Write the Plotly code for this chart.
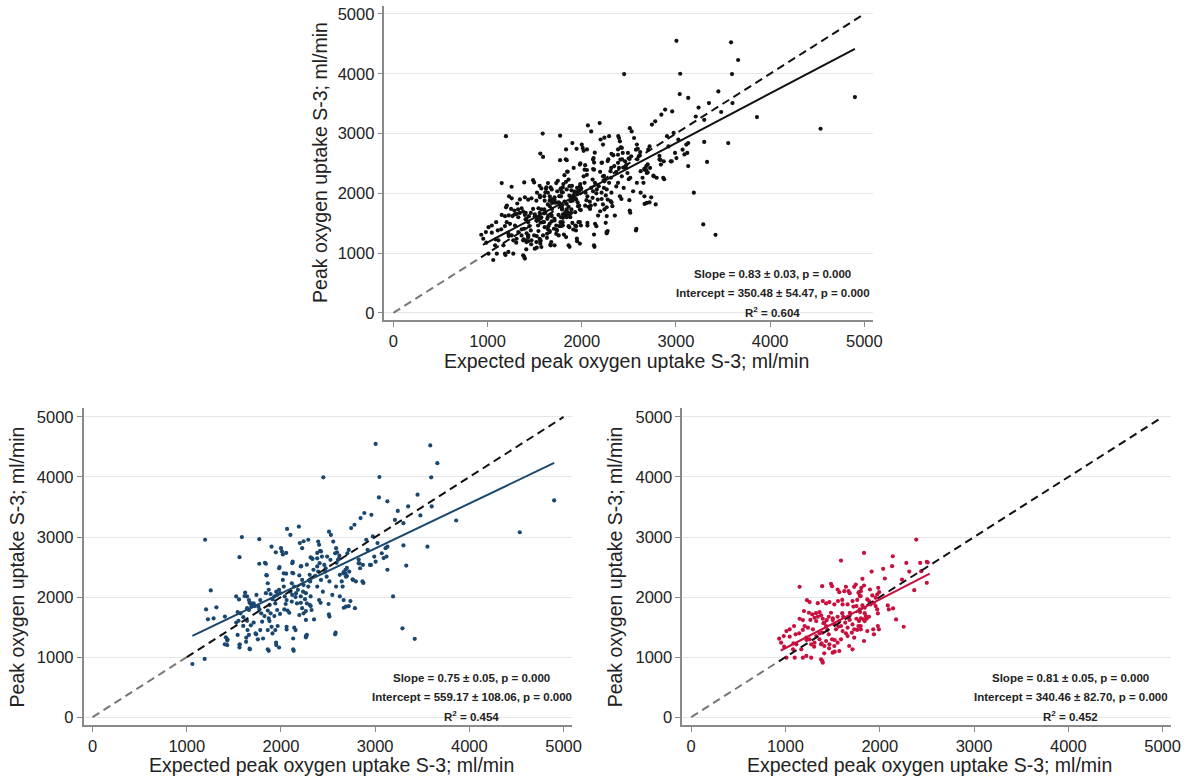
import plotly.graph_objects as go

# ---------------- data ----------------
blue_x = [1060,1190,1195,1205,1225,1255,1315,1285,1405,1415,1430,1430,1525,1540,1525,1550,1540,1560,1560,1560,
          1585,1570,1600,1600,1620,1640,1660,1680,1640,1660,1685,1710,1640,1680,1645,1660,1630,1670,1710,1730,
          1740,1770,1770,1780,1790,1800,1780,1810,1760,1840,1850,1860,1870,1840,1890,1900,1910,1880,1860,1890,
          1870,1900,1860,1910,1870,1950,1960,1930,1940,1980,1990,2000,2010,1980,2030,2020,2030,1960,1990,1940,
          1950,1980,2040,2060,2050,2070,2060,2060,2065,2100,2120,2130,2115,2140,2100,2120,2160,2155,2115,2170,
          2130,2135,2190,2200,2225,2210,2195,2225,2240,2180,2235,2210,2265,2255,2275,2225,2240,2195,2265,2155,
          2275,2265,2240,2290,2305,2310,2290,2315,2305,2325,2330,2345,2365,2385,2395,2405,2425,2435,2410,2395,
          2425,2385,2445,2405,2450,2460,2470,2485,2515,2475,2510,2530,2555,2515,2505,2545,2490,2525,2575,2585,
          2605,2625,2585,2575,2625,2645,2655,2665,2685,2690,2665,2705,2720,2725,2745,2765,2690,2780,2785,2825,
          2845,2840,2865,2885,2905,2920,2945,2960,2975,2990,3005,3025,3005,3040,3045,3070,3090,3110,3130,3130,
          3130,3120,3190,3210,3240,3300,3300,3330,3290,3350,3420,3450,3480,3555,3585,3595,3600,3660,3860,4535,
          4900,1830,1945,2020,2055,1845,1985,2055,2120,2125,2215,2275,2315,2335,2385,2385,2415,2595,2620,2590,
          2615,2825,2835,2870,2955,2700,2665,2685,2700,2760,2795,2875,1555,1614,1667,1720,1772,1825,1878,1930,
          1965,2036,2088,2141,2211,2264,2316,2351,2421,2509,2580,2667,2737,2720,1860,1948,2130,2264,1667,1432,
          1404,1562,1632,1737,1755]
blue_y = [885,970,2955,1795,1630,2110,1830,1645,1675,1330,1275,1200,2010,1750,1575,1605,1370,1200,1160,2665,
          3000,1730,1665,1520,2075,2010,1950,1895,1815,1785,1840,1895,1605,1530,1450,1370,1255,1130,1575,1395,
          2035,2965,2555,1950,1730,1590,1450,1310,1840,2555,2360,2230,2120,2065,2050,2840,1965,1870,1775,1730,
          1645,1505,1450,1395,1105,2090,2035,2010,1895,2120,2065,2815,2760,2480,2395,2285,2175,1785,1720,1450,
          1200,1160,2010,1950,1885,1775,1505,1460,3135,3035,2565,2395,2230,2175,2090,2035,2065,2000,1925,1895,
          1310,1105,3175,2900,2815,2510,2360,2285,2200,2120,2090,2010,2065,1965,1895,1815,1730,1700,1620,1450,
          1370,1330,2930,2955,2370,2260,2175,2010,1870,1785,2645,2455,2355,2510,2925,2870,2760,2675,2565,2425,
          2285,2175,2090,1950,3995,2535,2425,2340,2260,2480,3090,3035,2925,1675,1885,2035,2675,2620,2730,2815,
          2620,2370,2175,1380,2010,2260,2175,2395,2455,2340,1950,2730,2785,2425,3150,2285,1840,3205,1815,2565,
          3315,2480,2260,3400,2955,2785,2535,3370,3010,2675,4550,2900,2590,3660,4000,2730,2650,2815,3595,2840,
          2455,2675,2010,3285,3435,3230,2860,2525,1480,3510,1305,3705,3360,2840,4525,3995,3510,4230,3275,3080,
          3610,2570,2745,2710,2735,2365,2500,2390,2405,2590,2515,2540,2660,2635,2645,2735,2770,2745,2690,2570,
          2635,2625,2560,2535,2535,2485,2415,2390,2350,2295,2260,2235,1960,2016,1905,1850,1794,1684,1601,1684,
          1518,1794,1739,1490,1905,1767,1850,1628,1905,1711,1407,1822,1933,1850,1130,1241,1130,1351,1141,1296,
          1213,1213,1324,1379,1296]

red_x = [1589,1150,1389,1483,1494,1553,1571,1624,1641,1669,1729,1746,1774,1788,1799,1228,1256,1196,1249,1396,
         1431,1466,1518,1557,1606,1659,1711,1753,1788,1150,1185,1203,1091,1108,982,1010,1045,933,954,1284,
         1308,1326,1343,1361,1378,1396,1413,1431,1438,1459,1483,1501,1518,1536,1553,1571,1589,1606,1613,1634,
         1659,1676,1683,1704,1711,1729,1753,1774,1221,1256,1273,1308,1326,1361,1378,1413,1431,1466,1494,1518,
         1553,1589,1389,1459,1291,1238,1115,1080,1168,1010,1098,1185,1221,1273,1378,1389,1396,1501,1571,1676,
         1711,1799,1729,1659,2387,1833,2138,2429,2499,2282,2131,2036,1914,2313,2440,2054,2236,1816,2366,2499,
         1805,1833,1896,1984,1994,1973,1780,1798,1921,1956,1868,1886,1903,1938,1816,1840,1791,1956,1973,2085,
         2096,2141,1980,1851,1826,1840,1861,1886,1780,1798,1868,1931,1980,1991,2173,2254,1938,1833,2508,1184,
         1264,1324,1363,1403,1443,1502,1522,1562,1602,1641,1681,1721,1761,1800,1840,1224,1304,1383,1463,1411,
         1522,1343,1602,1681,1761,1145,1085,1045,986]
red_y = [2608,2171,2182,2220,2182,2126,2082,2099,2171,2099,2171,2209,2071,2016,2099,1949,1916,1766,1739,1933,
         1894,1916,1877,1933,1877,1877,1933,1850,1794,1639,1617,1517,1517,1379,1351,1434,1462,1307,1240,1711,
         1656,1600,1672,1750,1694,1639,1573,1517,1617,1672,1739,1617,1545,1462,1672,1600,1517,1434,1672,1573,
         1490,1639,1739,1407,1545,1462,1639,1517,1323,1296,1213,1240,1351,1296,1213,1185,1268,1213,1296,1185,
         1240,1296,1407,1379,1462,1490,1213,1130,1130,991,991,991,1019,991,964,936,908,1074,1102,1185,
         1130,1462,1323,1351,2957,2735,2680,2569,2586,2569,2514,2470,2425,2425,2431,2309,2292,2304,2115,2237,
         2154,2193,2126,2154,2082,2043,2082,2016,2027,1988,1960,1933,1877,1905,1861,1822,1750,1850,1794,1861,
         1794,1811,1728,1683,1628,1600,1639,1672,1600,1517,1434,1462,1517,1462,1628,1506,1379,1268,2576,1452,
         1619,1731,1397,1564,1452,1647,1285,1508,1731,1397,1619,1842,1452,1647,1731,1285,1174,1230,1146,1063,
         1091,1898,1953,2065,1953,1397,1230,1341,1174]

all_x = blue_x + red_x
all_y = blue_y + red_y

fits = [
    dict(slope=0.83, intercept=350.48, x0=950, x1=4900, color="#111111",
         text=["Slope = 0.83 ± 0.03, p = 0.000", "Intercept = 350.48 ± 54.47, p = 0.000", "R<sup>2</sup> = 0.604"]),
    dict(slope=0.75, intercept=559.17, x0=1060, x1=4900, color="#1a476f",
         text=["Slope = 0.75 ± 0.05, p = 0.000", "Intercept = 559.17 ± 108.06, p = 0.000", "R<sup>2</sup> = 0.454"]),
    dict(slope=0.81, intercept=340.46, x0=950, x1=2530, color="#c8103e",
         text=["Slope = 0.81 ± 0.05, p = 0.000", "Intercept = 340.46 ± 82.70, p = 0.000", "R<sup>2</sup> = 0.452"]),
]
point_colors = ["#111111", "#1a476f", "#c8103e"]
panels_x = [all_x, blue_x, red_x]
panels_y = [all_y, blue_y, red_y]
dash_start = [930, 1000, 930]

tick_vals = [0, 1000, 2000, 3000, 4000, 5000]
x_title = "Expected peak oxygen uptake S-3; ml/min"
y_title = "Peak oxygen uptake S-3; ml/min"

# ---------------- layout geometry ----------------
W, H = 1192, 780
panels = [
    dict(xd=[387.7, 880.2], yd=[5.2, 320.0], xr=[-95, 5090], yr=[-122, 5130]),
    dict(xd=[84.3, 576.9], yd=[408.3, 726.0], xr=[-95, 5090], yr=[-133, 5145]),
    dict(xd=[688.0, 1181.0], yd=[408.3, 726.0], xr=[-95, 5090], yr=[-133, 5145]),
]

fig = go.Figure()
FONT = "Liberation Sans, Arial, sans-serif"
NARROW = "Liberation Sans Narrow, Arial Narrow, Liberation Sans, Arial"

for i in range(3):
    xa = "x" if i == 0 else f"x{i+1}"
    ya = "y" if i == 0 else f"y{i+1}"
    fig.add_trace(go.Scatter(x=[0, dash_start[i]], y=[0, dash_start[i]], mode="lines",
                             line=dict(color="#777777", width=2, dash="8px,5px"),
                             xaxis=xa, yaxis=ya, showlegend=False, hoverinfo="skip"))
    fig.add_trace(go.Scatter(x=panels_x[i], y=panels_y[i], mode="markers",
                             marker=dict(color=point_colors[i], size=4.2, line=dict(width=0)),
                             xaxis=xa, yaxis=ya, showlegend=False))
    fig.add_trace(go.Scatter(x=[dash_start[i], 5000], y=[dash_start[i], 5000], mode="lines",
                             line=dict(color="#111111", width=2, dash="8px,5px"),
                             xaxis=xa, yaxis=ya, showlegend=False, hoverinfo="skip"))
    f = fits[i]
    fig.add_trace(go.Scatter(x=[f["x0"], f["x1"]],
                             y=[f["intercept"] + f["slope"] * f["x0"], f["intercept"] + f["slope"] * f["x1"]],
                             mode="lines", line=dict(color=f["color"], width=2),
                             xaxis=xa, yaxis=ya, showlegend=False, hoverinfo="skip"))

    p = panels[i]
    xdom = [p["xd"][0] / W, p["xd"][1] / W]
    ydom = [1 - p["yd"][1] / H, 1 - p["yd"][0] / H]
    axis_common = dict(showline=True, linecolor="#8a8a8a", linewidth=1.5, ticks="outside",
                       ticklen=5, tickwidth=1, tickcolor="#8a8a8a",
                       tickvals=tick_vals, ticktext=[str(v) for v in tick_vals],
                       tickfont=dict(family=FONT, size=16.5, color="#222222"), zeroline=False)
    fig.layout["xaxis" if i == 0 else f"xaxis{i+1}"] = dict(
        domain=xdom, range=p["xr"], showgrid=False, anchor=ya, **axis_common)
    fig.layout["yaxis" if i == 0 else f"yaxis{i+1}"] = dict(
        domain=ydom, range=p["yr"], showgrid=True, gridcolor="#e6e6e6", gridwidth=1,
        anchor=xa, **axis_common)

    for t, yv in zip(f["text"], [645, 332, 17]):
        fig.add_annotation(x=4025, y=yv, xref=xa, yref=ya, text=f"<b>{t}</b>", showarrow=False,
                           font=dict(family=NARROW, size=11.5, color="#222222"),
                           xanchor="center", yanchor="middle")

title_pos = [
    dict(xt=(632, 361), yt=(322, 162)),
    dict(xt=(334, 766), yt=(17, 567)),
    dict(xt=(937, 766), yt=(620, 567)),
]
for tp in title_pos:
    fig.add_annotation(x=tp["xt"][0] / W, y=1 - tp["xt"][1] / H, xref="paper", yref="paper",
                       text=x_title, showarrow=False, xanchor="center", yanchor="middle",
                       font=dict(family=FONT, size=19.5, color="#222222"))
    fig.add_annotation(x=tp["yt"][0] / W, y=1 - tp["yt"][1] / H, xref="paper", yref="paper",
                       text=y_title, showarrow=False, xanchor="center", yanchor="middle", textangle=-90,
                       font=dict(family=FONT, size=19.5, color="#222222"))

fig.update_layout(width=W, height=H, margin=dict(l=0, r=0, t=0, b=0),
                  paper_bgcolor="white", plot_bgcolor="white", showlegend=False)

fig.write_html("out.html")
